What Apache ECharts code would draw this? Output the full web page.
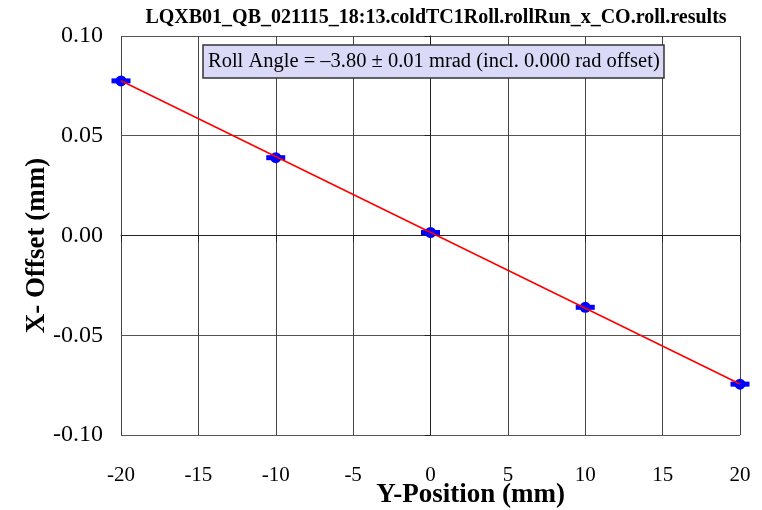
<!DOCTYPE html>
<html>
<head>
<meta charset="utf-8">
<script src="https://cdn.jsdelivr.net/npm/echarts@6/dist/echarts.min.js"></script>
<style>
  html, body { margin: 0; padding: 0; background: #fff; }
  #chart { width: 762px; height: 510px; }
</style>
</head>
<body>
<div id="chart"></div>
<script>
// roll run measured points
var yPos = [-20, -10, 0, 10, 20];
var xOffset = [0.0775, 0.039, 0.0015, -0.036, -0.0745];
// fitted line ends
var fitX = [-20, 20];
var fitY = [0.0776, -0.0744];

var serif = '"Liberation Serif", "DejaVu Serif", serif';
var chart = echarts.init(document.getElementById('chart'));

var pts = yPos.map(function (v, i) { return [v, xOffset[i]]; });
var fit = fitX.map(function (v, i) { return [v, fitY[i]]; });

var option = {
    animation: false,
    title: [
        {
            text: 'LQXB01_QB_021115_18:13.coldTC1Roll.rollRun_x_CO.roll.results',
            left: 431,
            textAlign: 'center',
            top: 3,
            textStyle: { fontFamily: serif, fontSize: 20, fontWeight: 'bold', color: '#000' }
        },
        {
            text: 'Roll Angle = \u20133.80 \u00b1 0.01 mrad (incl. 0.000 rad offset)',
            left: 203,
            top: 45,
            padding: [6, 5, 6, 5],
            backgroundColor: '#dadaf8',
            borderColor: '#333',
            borderWidth: 1.5,
            textStyle: { fontFamily: serif, fontSize: 20.5, fontWeight: 'normal', color: '#000' }
        }
    ],
    grid: { left: 121, right: 22, top: 36, bottom: 75, outerBoundsMode: 'none', containLabel: false },
    xAxis: {
        type: 'value',
        min: -20, max: 20, interval: 5,
        name: 'Y-Position (mm)',
        nameLocation: 'middle',
        nameGap: 47,
        nameMoveOverlap: false,
        nameTextStyle: { fontFamily: serif, fontSize: 27, fontWeight: 'bold', color: '#000', padding: [0, 0, 0, 80] },
        axisLine: { lineStyle: { color: '#222', width: 1 } },
        axisTick: { inside: false, length: 6, lineStyle: { color: '#222' } },
        axisLabel: { fontFamily: serif, fontSize: 21, color: '#000', margin: 30 },
        splitLine: { show: true, lineStyle: { color: '#444', width: 1 } }
    },
    yAxis: {
        type: 'value',
        min: -0.1, max: 0.1, interval: 0.05,
        name: 'X- Offset (mm)',
        nameLocation: 'middle',
        nameGap: 70,
        nameMoveOverlap: false,
        nameTextStyle: { fontFamily: serif, fontSize: 27, fontWeight: 'bold', color: '#000', padding: [0, 20, 0, 0] },
        axisLine: { show: true, lineStyle: { color: '#222', width: 1 } },
        axisTick: { show: true, inside: false, length: 6, lineStyle: { color: '#222' } },
        axisLabel: {
            fontFamily: serif, fontSize: 24, color: '#000', margin: 18,
            formatter: function (v) { return v.toFixed(2); }
        },
        splitLine: { show: true, lineStyle: { color: '#555', width: 1 } }
    },
    series: [
        {
            type: 'scatter',
            data: pts,
            symbol: 'rect',
            symbolSize: [19, 5],
            itemStyle: { color: '#0000ff', opacity: 1 },
            z: 3
        },
        {
            type: 'scatter',
            data: pts,
            symbol: 'circle',
            symbolSize: 11,
            itemStyle: { color: '#0000ff', opacity: 1 },
            z: 3
        },
        {
            type: 'line',
            data: fit,
            symbol: 'none',
            lineStyle: { color: '#ff0000', width: 1.6 },
            z: 4
        }
    ]
};

chart.setOption(option);
</script>
</body>
</html>
